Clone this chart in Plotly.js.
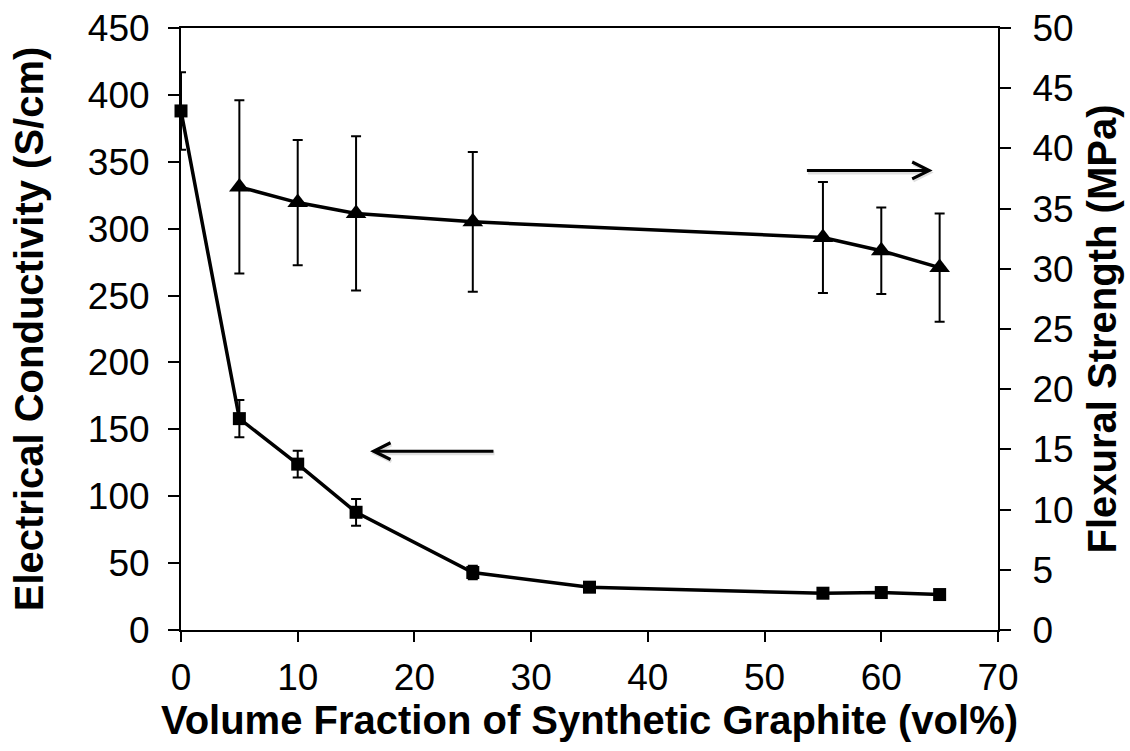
<!DOCTYPE html>
<html>
<head>
<meta charset="utf-8">
<script src="https://cdn.plot.ly/plotly-3.0.1.min.js"></script>
<style>html,body{margin:0;padding:0;background:#fff;}#chart{width:1130px;height:751px;}</style>
</head>
<body>
<div id="chart"></div>
<script>
// Electrical conductivity (left axis)
const condX = [0, 5, 10, 15, 25, 35, 55, 60, 65];
const condY = [388, 158, 124, 88, 43, 32, 27.5, 28, 26.5];
const condErr = [29, 14, 10, 10, 5, 3, 2, 2, 2];
// Flexural strength (right axis)
const flexX = [5, 10, 15, 25, 55, 60, 65];
const flexY = [36.8, 35.5, 34.6, 33.9, 32.6, 31.5, 30.1];
const flexErr = [7.2, 5.2, 6.4, 5.8, 4.6, 3.6, 4.5];
// Arrow annotations (data coordinates, left axis)
const leftArrow = {from: 26.9, to: 16.2, y: 133.7};
const rightArrow = {from: 53.5, to: 64.4, y: 343.5};

const font = 'Liberation Sans, Arial, sans-serif';

const traces = [
  {
    x: condX, y: condY, type: 'scatter', mode: 'lines+markers',
    line: {color: '#000', width: 3.5},
    marker: {symbol: 'square', size: 13, color: '#000'},
    error_y: {type: 'data', array: condErr, visible: true, color: '#000', thickness: 2, width: 5},
    yaxis: 'y', showlegend: false, cliponaxis: false
  },
  {
    x: flexX, y: flexY, type: 'scatter', mode: 'lines+markers',
    line: {color: '#000', width: 3.5},
    marker: {symbol: 'triangle-up', size: 18, color: '#000'},
    error_y: {type: 'data', array: flexErr, visible: true, color: '#000', thickness: 2, width: 5},
    yaxis: 'y2', showlegend: false, cliponaxis: false
  }
];

const tickFont = {family: font, size: 37, color: '#000'};
const titleFont = {family: font, size: 40, color: '#000', weight: 'bold'};

function arrow(a, color, width, size, xs, ys) {
  return {x: a.to, y: a.y, ax: a.from, ay: a.y, xref: 'x', yref: 'y', axref: 'x', ayref: 'y',
    text: '', showarrow: true, arrowhead: 5, arrowsize: size, arrowwidth: width, arrowcolor: color,
    xshift: xs, yshift: ys};
}

const layout = {
  width: 1130, height: 751,
  margin: {l: 181, r: 132, t: 28, b: 121},
  paper_bgcolor: '#fff', plot_bgcolor: '#fff',
  font: {family: font, color: '#000'},
  xaxis: {
    range: [0, 70], dtick: 10, tick0: 0,
    showgrid: false, zeroline: false,
    showline: true, linecolor: '#000', linewidth: 2, mirror: true,
    ticks: 'outside', ticklen: 10, tickwidth: 2, tickcolor: '#000',
    tickfont: tickFont, ticklabelstandoff: 4,
    title: {text: 'Volume Fraction of Synthetic Graphite (vol%)', font: titleFont, standoff: 4}
  },
  yaxis: {
    range: [0, 450], dtick: 50, tick0: 0,
    showgrid: false, zeroline: false,
    showline: true, linecolor: '#000', linewidth: 2,
    ticks: 'outside', ticklen: 11, tickwidth: 2, tickcolor: '#000',
    tickfont: tickFont, ticklabelstandoff: 11,
    title: {text: 'Electrical Conductivity (S/cm)', font: titleFont, standoff: 32}
  },
  yaxis2: {
    range: [0, 50], dtick: 5, tick0: 0, overlaying: 'y', side: 'right',
    showgrid: false, zeroline: false,
    showline: true, linecolor: '#000', linewidth: 2,
    ticks: 'outside', ticklen: 11, tickwidth: 2, tickcolor: '#000',
    tickfont: tickFont, ticklabelstandoff: 14,
    title: {text: 'Flexural Strength (MPa)', font: titleFont, standoff: 15}
  },
  annotations: [
    arrow(leftArrow, 'rgba(0,0,0,0.12)', 4, 0.82, 1, -2),
    arrow(rightArrow, 'rgba(0,0,0,0.12)', 4, 0.82, 1, -2),
    arrow(leftArrow, '#000', 3, 1.1, 0, 0),
    arrow(rightArrow, '#000', 3, 1.1, 0, 0)
  ]
};

Plotly.newPlot('chart', traces, layout, {displayModeBar: false, staticPlot: true});
</script>
</body>
</html>
